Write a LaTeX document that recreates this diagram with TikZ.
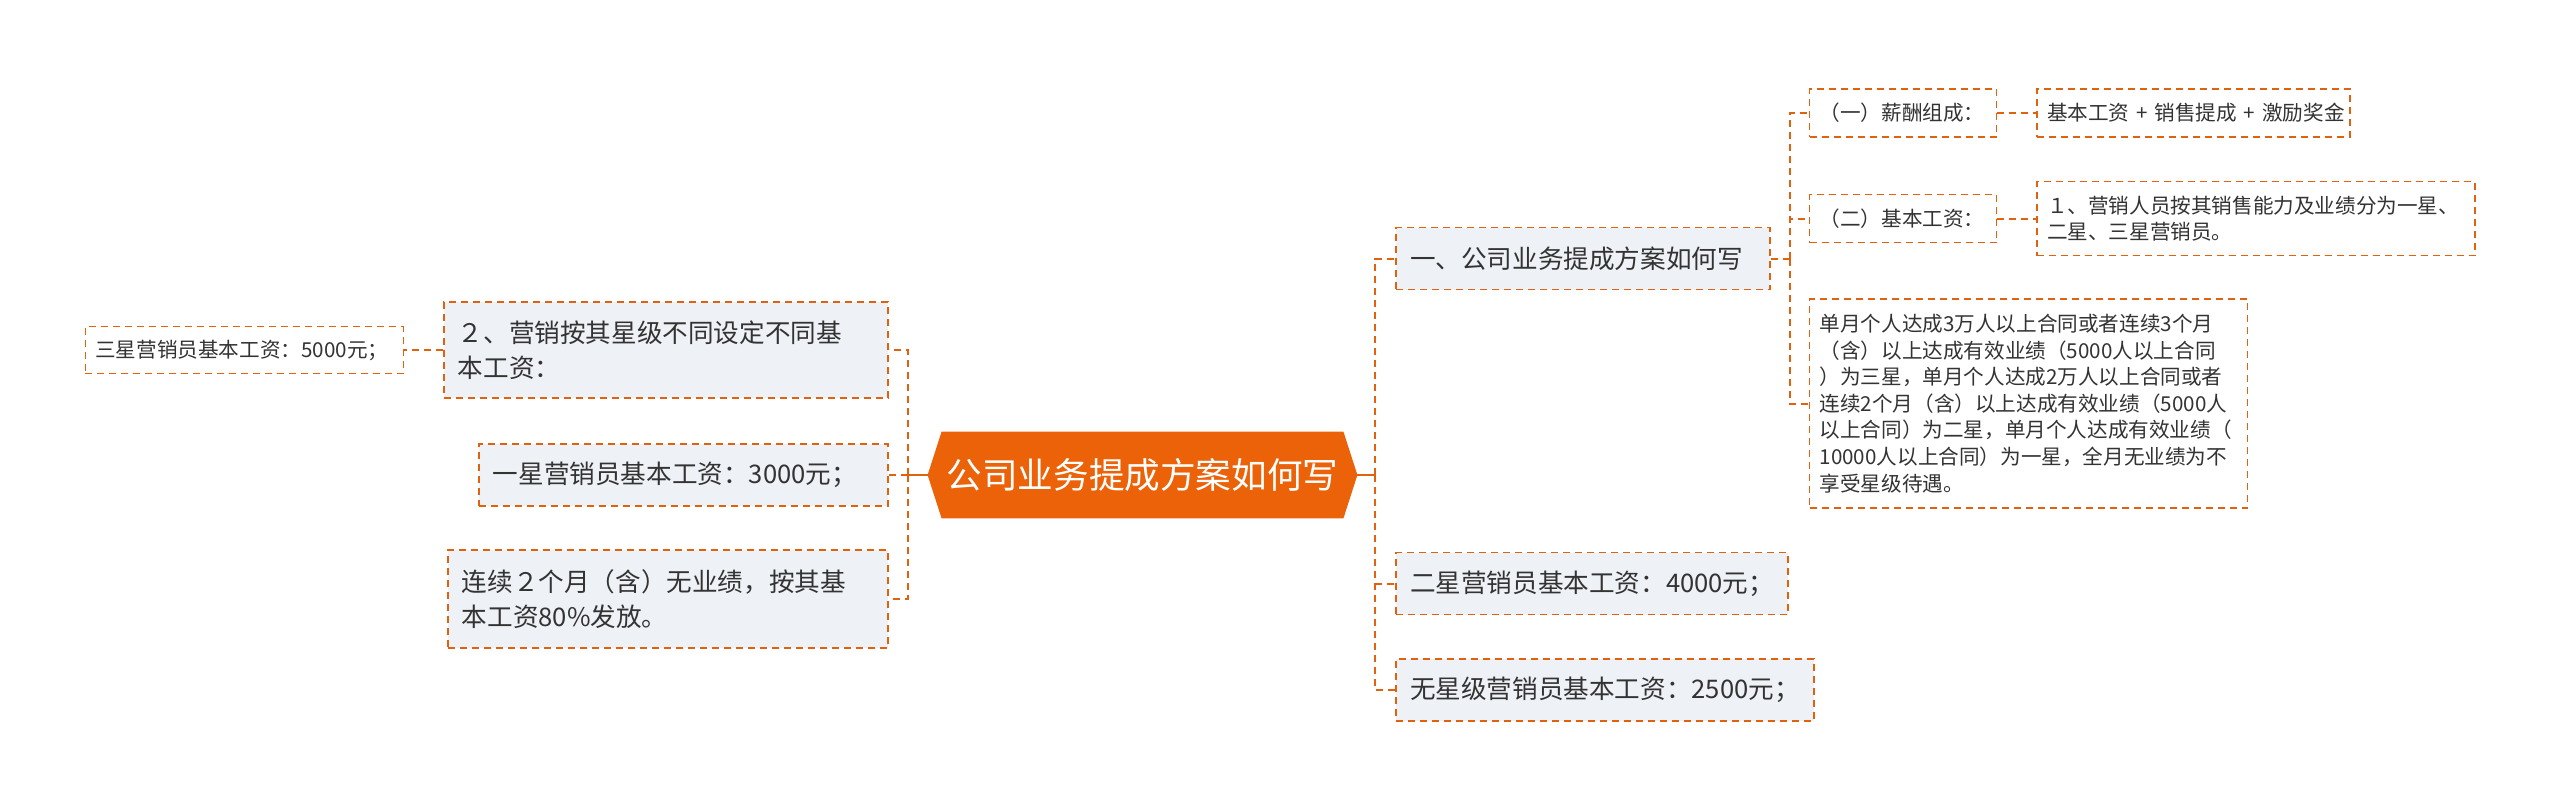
\documentclass[tikz,border=0pt]{standalone}
\usepackage{fontspec}
\setmainfont{Noto Sans CJK SC}
\usetikzlibrary{positioning}
\pgfdeclarelayer{background}
\pgfsetlayers{background,main}
\definecolor{Rootcol}{HTML}{EB6209}
\definecolor{Linkcol}{HTML}{E0620F}
\definecolor{Boxcol}{HTML}{EEF1F5}
\definecolor{Textcol}{HTML}{333333}
\tikzstyle{link}  = [Linkcol, line width=1pt]
\tikzstyle{dlink} = [link, dash pattern=on 3.5pt off 2.5pt]
\tikzset{
  basic box/.style = {
    shape = rectangle,
    draw = Linkcol,
    line width = 0.75pt,
    dash pattern = on 3.5pt off 2.5pt,
    text = Textcol,
    align = left,
    inner ysep = 2pt,
    },
  topic box/.style = {
    basic box,
    fill = Boxcol,
    inner xsep = 7pt,
    minimum height = 31pt,
    font = \fontsize{12.8}{17.5}\selectfont,
    },
  leaf box/.style = {
    basic box,
    fill = white,
    inner xsep = 5pt,
    minimum height = 24pt,
    font = \fontsize{10.3}{13.3}\selectfont,
    },
  root box/.style = {
    shape = rectangle,
    text = white,
    inner sep = 0pt,
    minimum width = 200.5pt,
    minimum height = 43pt,
    font = \fontsize{17.8}{21}\selectfont,
    },
}
\begin{document}
\begin{tikzpicture}
    \useasboundingbox (0,0) rectangle (1280pt,405.5pt);

    % centre
    \node[root box] (root) at (571.25pt,168pt) {公司业务提成方案如何写};
    \coordinate (rootR) at ([xshift=7pt]root.east);
    \coordinate (rootL) at ([xshift=-7pt]root.west);
    \begin{pgfonlayer}{background}
        \fill[Rootcol] (root.north west) -- (rootL) -- (root.south west)
            -- (root.south east) -- (rootR) -- (root.north east) -- cycle;
    \end{pgfonlayer}

    % right side
    \node[topic box, text width=173pt, right=26pt of root, yshift=108.25pt] (plan) {一、公司业务提成方案如何写};
    \node[topic box, text width=182pt, right=26pt of root, yshift=-54.25pt] (two) {二星营销员基本工资：4000元；};
    \node[topic box, text width=195pt, right=26pt of root, yshift=-107.5pt] (none) {无星级营销员基本工资：2500元；};

    \node[leaf box, text width=83.5pt, right=19pt of plan, yshift=72.75pt] (pay) {（一）薪酬组成：};
    \node[leaf box, text width=83.5pt, right=19pt of plan, yshift=20pt] (base) {（二）基本工资：};
    \node[leaf box, text width=209pt, minimum height=104.5pt, right=19pt of plan, yshift=-72.5pt] (rule)
        {单月个人达成3万人以上合同或者连续3个月\\（含）以上达成有效业绩（5000人以上合同\\）为三星，单月个人达成2万人以上合同或者\\连续2个月（含）以上达成有效业绩（5000人\\以上合同）为二星，单月个人达成有效业绩（\\10000人以上合同）为一星，全月无业绩为不\\享受星级待遇。};

    \node[leaf box, text width=146.5pt, right=19.5pt of pay] (mix) {基本工资~+~销售提成~+~激励奖金};
    \node[leaf box, text width=209pt, minimum height=37pt, right=19.5pt of base] (grade)
        {１、营销人员按其销售能力及业绩分为一星、\\二星、三星营销员。};

    % left side
    \node[topic box, text width=208pt, minimum height=48pt, left=26.5pt of root, yshift=62.5pt] (star)
        {２、营销按其星级不同设定不同基\\本工资：};
    \node[topic box, text width=190.5pt, left=26.5pt of root] (one) {一星营销员基本工资：3000元；};
    \node[topic box, text width=206pt, minimum height=49pt, left=26.5pt of root, yshift=-62pt] (keep)
        {连续２个月（含）无业绩，按其基\\本工资80\%发放。};

    \node[leaf box, text width=149pt, minimum height=23.5pt, left=19.5pt of star] (three) {三星营销员基本工资：5000元；};

    % links
    \coordinate[right=9pt of rootR] (jR);
    \coordinate[left=10pt of rootL] (jL);
    \coordinate[right=9.5pt of plan] (jP);

    \draw[link] (rootR) -- (jR);
    \foreach \n in {plan,two,none} \draw[dlink] (jR) |- (\n.west);
    \draw[link] (rootL) -- (jL);
    \foreach \n in {star,one,keep} \draw[dlink] (jL) |- (\n.east);

    \draw[dlink] (plan.east) -- (jP);
    \foreach \n in {pay,base,rule} \draw[dlink] (jP) |- (\n.west);
    \draw[dlink] (pay.east) -- (mix.west);
    \draw[dlink] (base.east) -- (grade.west);
    \draw[dlink] (star.west) -- (three.east);

\end{tikzpicture}
\end{document}
